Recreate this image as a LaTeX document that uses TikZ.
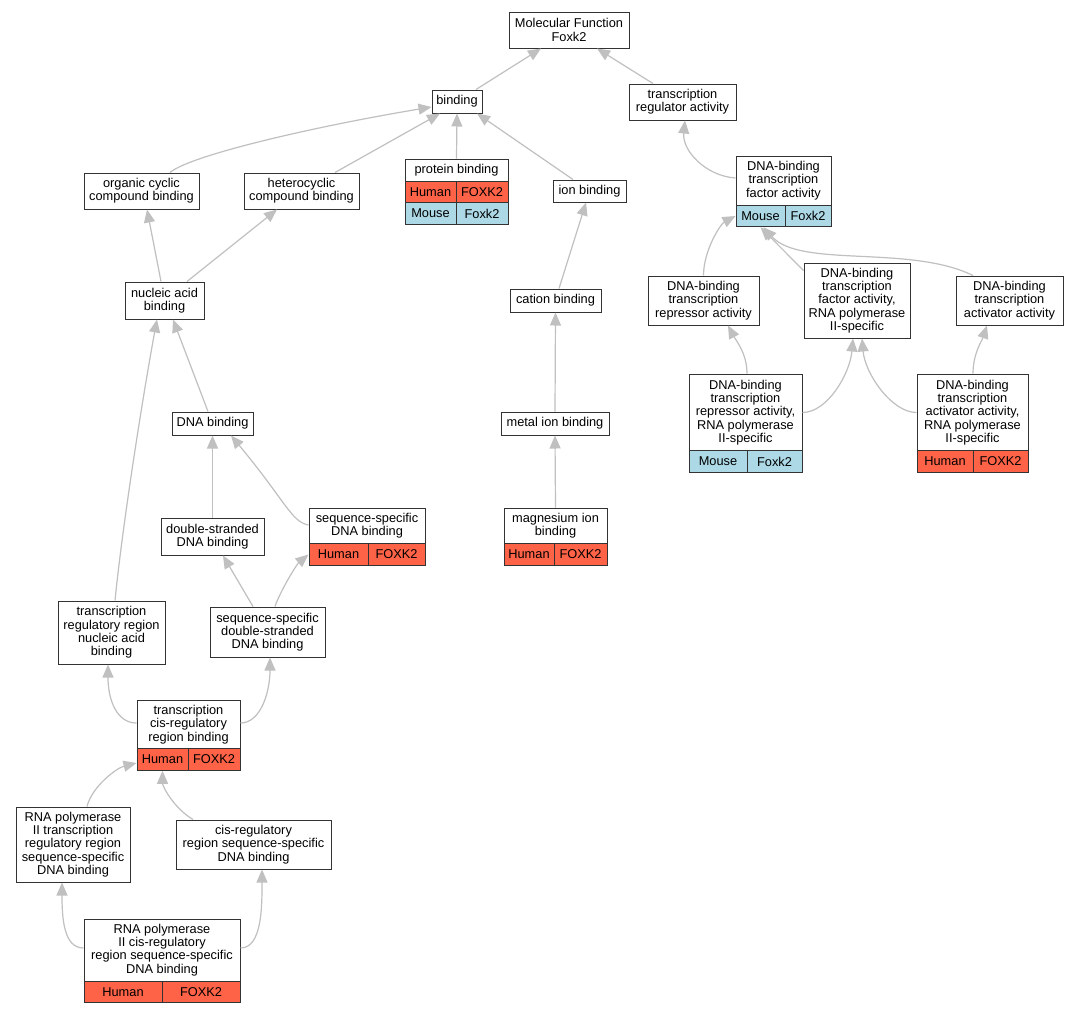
\documentclass[tikz,border=0pt]{standalone}
\usepackage{fontspec}
\setmainfont{Liberation Sans}
\usetikzlibrary{arrows.meta}
\definecolor{hum}{HTML}{FF6347}
\definecolor{mou}{HTML}{ADD8E6}
\definecolor{edg}{HTML}{C0C0C0}

\begin{document}
\begin{tikzpicture}[x=1pt, y=-1pt, align=center, font=\fontsize{12.8}{13.3}\selectfont]
\tikzstyle{v} = [draw=black!80, line width=1pt, fill=white, inner sep=0pt]
\tikzstyle{hu} = [v, fill=hum, minimum height=21.5pt]
\tikzstyle{mo} = [v, fill=mou, minimum height=21.5pt]
\tikzstyle{e} = [draw=edg, line width=1.2pt, -{Triangle[length=13pt, width=11pt]}]

\fill[white] (0, 0) rectangle (1079, 1013);

\node[v, minimum width=120pt, minimum height=36pt] (mf) at (569, 30) {Molecular Function\\Foxk2};
\node[v, minimum width=50pt, minimum height=23pt] (bind) at (457, 101.5) {binding};
\node[v, minimum width=107pt, minimum height=36pt] (tra) at (682.5, 102) {transcription\\regulator activity};
\node[v, minimum width=103pt, minimum height=22pt] (prot) at (456.5, 170) {protein binding};
\node[hu, minimum width=51pt] (prot-h) at (430.5, 192) {Human};
\node[hu, minimum width=52pt] (prot-f) at (482, 192) {FOXK2};
\node[mo, minimum width=51pt] (prot-m) at (430.5, 213.5) {Mouse};
\node[mo, minimum width=52pt] (prot-k) at (482, 213.5) {Foxk2};
\node[v, minimum width=73pt, minimum height=22pt] (ion) at (589.5, 191) {ion binding};
\node[v, minimum width=115pt, minimum height=36pt] (orgc) at (141.5, 191) {organic cyclic\\compound binding};
\node[v, minimum width=115pt, minimum height=36pt] (het) at (301.5, 191) {heterocyclic\\compound binding};
\node[v, minimum width=95pt, minimum height=49pt] (dtf) at (783.5, 180.5) {DNA-binding\\transcription\\factor activity};
\node[mo, minimum width=49pt] (dtf-m) at (760.5, 216) {Mouse};
\node[mo, minimum width=46pt] (dtf-k) at (808, 216) {Foxk2};
\node[v, minimum width=91pt, minimum height=23pt] (cat) at (555.5, 300.5) {cation binding};
\node[v, minimum width=79pt, minimum height=37pt] (nuc) at (164.5, 300.5) {nucleic acid\\binding};
\node[v, minimum width=111pt, minimum height=49pt] (rep) at (703.5, 300.5) {DNA-binding\\transcription\\repressor activity};
\node[v, minimum width=106pt, minimum height=75pt] (tfp) at (857, 300.5) {DNA-binding\\transcription\\factor activity,\\RNA polymerase\\II-specific};
\node[v, minimum width=107pt, minimum height=49pt] (act) at (1009.5, 300.5) {DNA-binding\\transcription\\activator activity};
\node[v, minimum width=81pt, minimum height=23pt] (dna) at (212.5, 423.5) {DNA binding};
\node[v, minimum width=108pt, minimum height=23pt] (metal) at (555, 423.5) {metal ion binding};
\node[v, minimum width=113pt, minimum height=77pt] (repp) at (745.5, 412.5) {DNA-binding\\transcription\\repressor activity,\\RNA polymerase\\II-specific};
\node[mo, minimum width=58pt] (repp-m) at (718, 461.5) {Mouse};
\node[mo, minimum width=55pt] (repp-k) at (774.5, 461.5) {Foxk2};
\node[v, minimum width=111pt, minimum height=77pt] (actp) at (972.5, 412.5) {DNA-binding\\transcription\\activator activity,\\RNA polymerase\\II-specific};
\node[hu, minimum width=56pt] (actp-h) at (945, 461.5) {Human};
\node[hu, minimum width=55pt] (actp-f) at (1000.5, 461.5) {FOXK2};
\node[v, minimum width=103pt, minimum height=37pt] (ds) at (212.5, 536.5) {double-stranded\\DNA binding};
\node[v, minimum width=116pt, minimum height=36pt] (ssd) at (367, 526) {sequence-specific\\DNA binding};
\node[hu, minimum width=59pt] (ssd-h) at (338.5, 554.5) {Human};
\node[hu, minimum width=57pt] (ssd-f) at (396.5, 554.5) {FOXK2};
\node[v, minimum width=103pt, minimum height=35pt] (mg) at (555.5, 525.5) {magnesium ion\\binding};
\node[hu, minimum width=50pt] (mg-h) at (529, 554.5) {Human};
\node[hu, minimum width=53pt] (mg-f) at (580.5, 554.5) {FOXK2};
\node[v, minimum width=107pt, minimum height=63pt] (trr) at (111.5, 632.5) {transcription\\regulatory region\\nucleic acid\\binding};
\node[v, minimum width=115pt, minimum height=50pt] (ssds) at (267.5, 632) {sequence-specific\\double-stranded\\DNA binding};
\node[v, minimum width=103pt, minimum height=49pt] (tcr) at (188.5, 724.5) {transcription\\cis-regulatory\\region binding};
\node[hu, minimum width=51pt] (tcr-h) at (162.5, 759.5) {Human};
\node[hu, minimum width=52pt] (tcr-f) at (214, 759.5) {FOXK2};
\node[v, minimum width=114pt, minimum height=75pt] (rp2t) at (73, 844.5) {RNA polymerase\\II transcription\\regulatory region\\sequence-specific\\DNA binding};
\node[v, minimum width=155pt, minimum height=49pt] (cis) at (253.5, 844.5) {cis-regulatory\\region sequence-specific\\DNA binding};
\node[v, minimum width=156pt, minimum height=62pt] (rp2c) at (162, 950) {RNA polymerase\\II cis-regulatory\\region sequence-specific\\DNA binding};
\node[hu, minimum width=78pt] (rp2c-h) at (123, 992) {Human};
\node[hu, minimum width=78pt] (rp2c-f) at (201, 992) {FOXK2};

\draw[e] ([xshift=19pt]bind.north) to ([xshift=-28pt]mf.south);
\draw[e] ([xshift=-29.5pt]tra.north) to ([xshift=28pt]mf.south);
\draw[e] ([xshift=28.5pt]orgc.north) .. controls +(20,-17) and +(-120,20) .. ([yshift=-5.5pt]bind.west);
\draw[e] ([xshift=33.5pt]het.north) to ([xshift=-17pt]bind.south);
\draw[e] (prot.north) to (bind.south);
\draw[e] ([xshift=-16.5pt]ion.north) to ([xshift=20pt]bind.south);
\draw[e] ([yshift=2.5pt]dtf.west) .. controls +(-30,-2) and +(-3,30) .. ([xshift=2.5pt]tra.south);
\draw[e] (rep.north) .. controls +(0,-25) and +(-15,8) .. (dtf-m.west);
\draw[e] ([yshift=-8pt]tfp.north west) to (dtf-m.south);
\draw[e] ([xshift=-36.5pt]act.north) .. controls +(-63,-31) and +(37,41) .. ([xshift=3pt]dtf-m.south);
\draw[e] ([xshift=1.5pt]repp.north) .. controls +(0,-20) and +(8,15) .. ([xshift=24.5pt]rep.south);
\draw[e] (repp.east) .. controls +(25,0) and +(-3,35) .. ([xshift=-4pt]tfp.south);
\draw[e] (actp.west) .. controls +(-25,0) and +(3,35) .. ([xshift=5pt]tfp.south);
\draw[e] ([xshift=0.5pt]actp.north) .. controls +(0,-20) and +(-5,15) .. ([xshift=-22.5pt]act.south);
\draw[e] ([xshift=-3.5pt]nuc.north) to ([xshift=5.5pt]orgc.south);
\draw[e] ([xshift=22.5pt]nuc.north) to ([xshift=-24.5pt]het.south);
\draw[e] ([xshift=-4.5pt]dna.north) to ([xshift=8.5pt]nuc.south);
\draw[e] ([xshift=3.5pt]trr.north) .. controls +(8,-80) and +(-13,70) .. ([xshift=-7.5pt]nuc.south);
\draw[e] (ds.north) to (dna.south);
\draw[e] ([yshift=1pt]ssd.west) .. controls +(-17,-3) and +(54,65) .. ([xshift=18.5pt]dna.south);
\draw[e] ([xshift=-14.5pt]ssds.north) to ([xshift=10.5pt]ds.south);
\draw[e] ([xshift=7.5pt]ssds.north) .. controls +(5,-15) and +(-12,10) .. (ssd-h.west);
\draw[e] ([yshift=1.5pt]tcr.west) .. controls +(-20,0) and +(0,35) .. ([xshift=-3.5pt]trr.south);
\draw[e] ([yshift=1.5pt]tcr.east) .. controls +(20,0) and +(0,35) .. ([xshift=2.5pt]ssds.south);
\draw[e] ([xshift=14pt]rp2t.north) .. controls +(5,-20) and +(-20,5) .. ([yshift=-3.5pt]tcr-h.west);
\draw[e] ([xshift=-60.5pt]cis.north) .. controls +(-20,-12) and +(0,15) .. (tcr-h.south);
\draw[e] ([yshift=2pt]rp2c.west) .. controls +(-20,0) and +(0,35) .. ([xshift=-11pt]rp2t.south);
\draw[e] ([yshift=2pt]rp2c.east) .. controls +(22,0) and +(0,35) .. ([xshift=8.5pt]cis.south);
\draw[e] ([xshift=3.5pt]cat.north) to ([xshift=-3.5pt]ion.south);
\draw[e] (metal.north) to (cat.south);
\draw[e] (mg.north) to (metal.south);
\end{tikzpicture}
\end{document}
